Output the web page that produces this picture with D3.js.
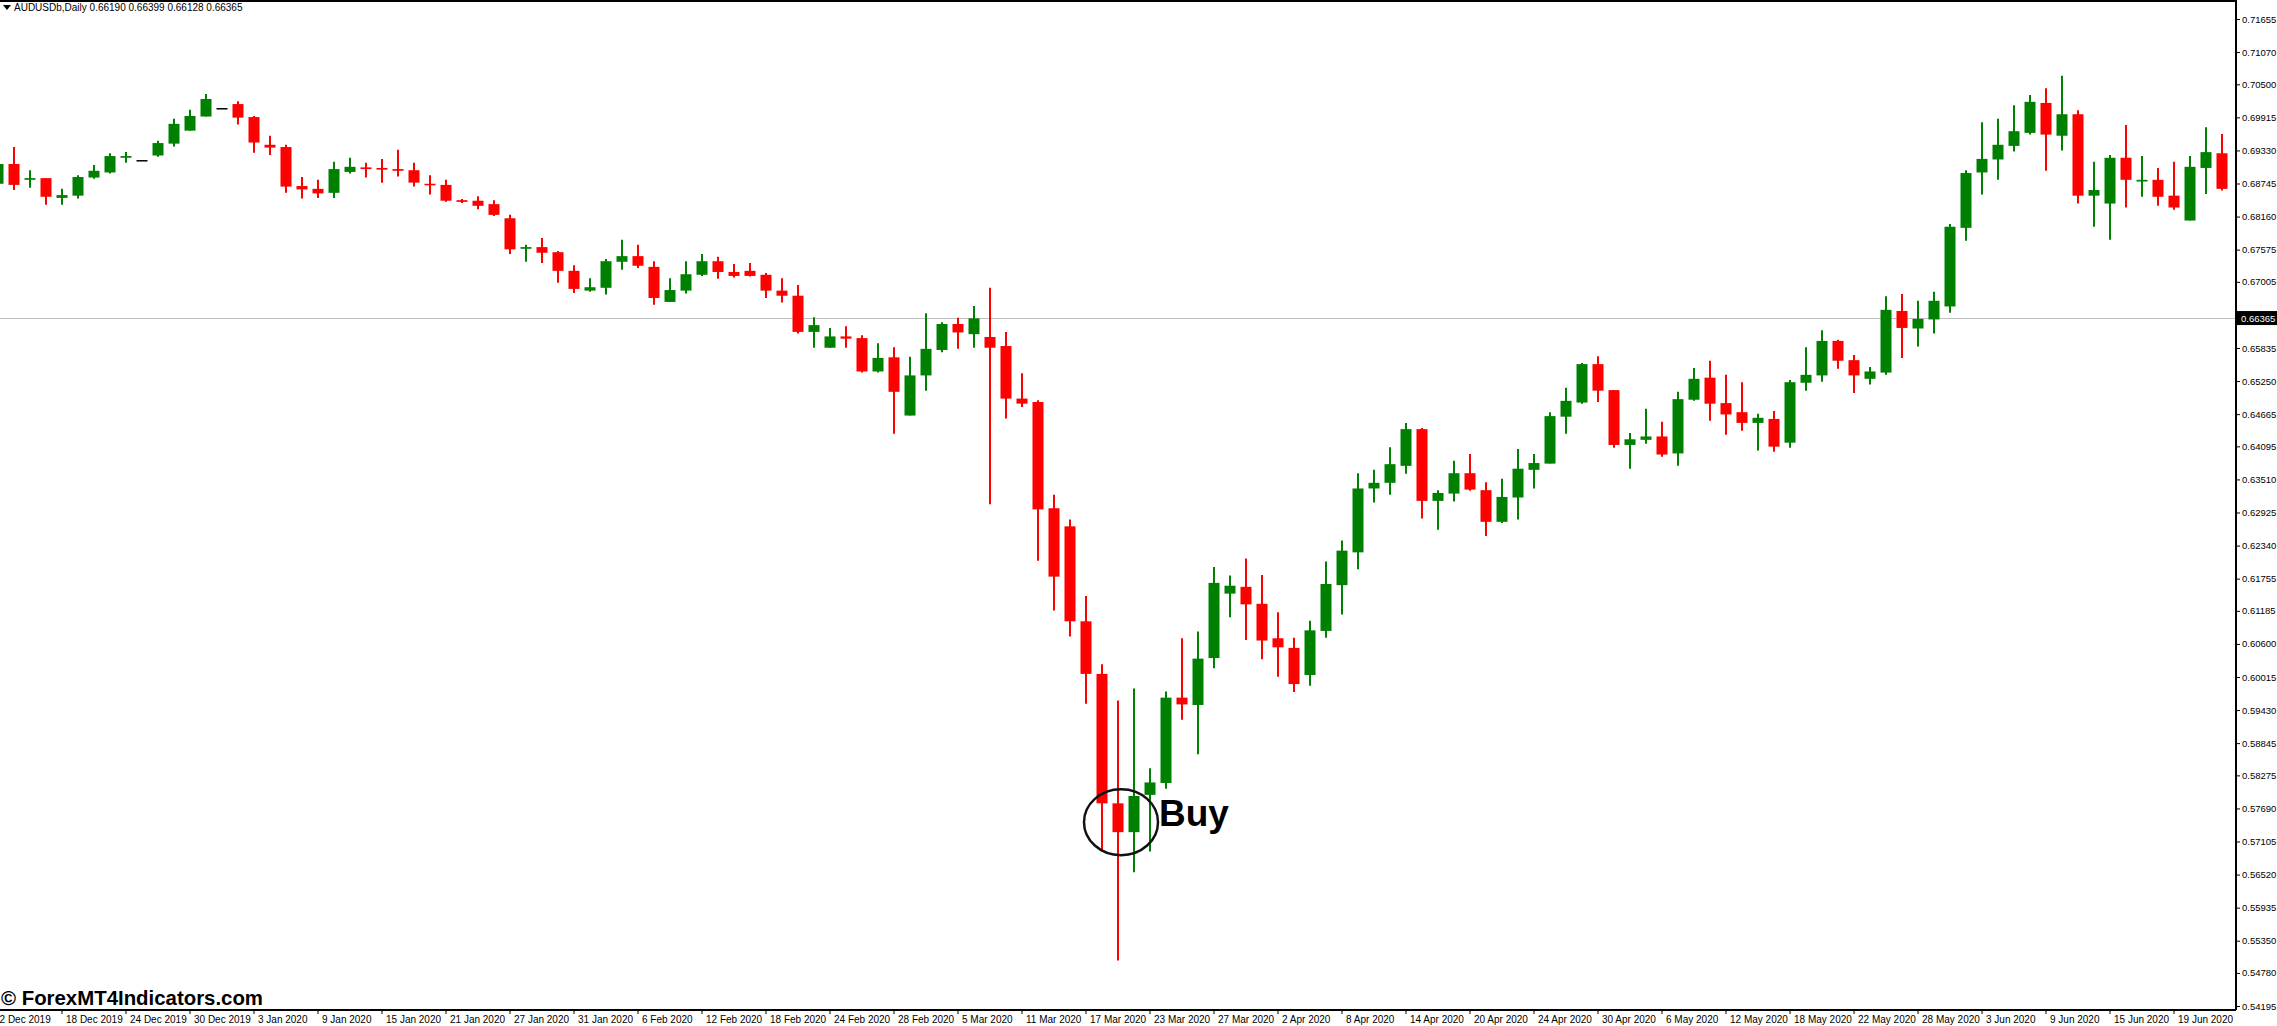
<!DOCTYPE html>
<html>
<head>
<script src="https://d3js.org/d3.v7.min.js"></script>
<style>
  body { margin: 0; background: #fff; }
  text { font-family: "Liberation Sans", Arial, sans-serif; }
</style>
</head>
<body>
<script>
// AUDUSDb daily candles, 12 Dec 2019 .. 24 Jun 2020
var open = [.6874,.6909,.6881,.6884,.6849,.6853,.6885,.6894,.6920,.6916,
  .6924,.6945,.6968,.6993,.7008,.7015,.6992,.6943,.6939,.6870,
  .6865,.6858,.6895,.6903,.6902,.6900,.6898,.6874,.6872,.6845,
  .6844,.6838,.6813,.6759,.6762,.6753,.6720,.6685,.6690,.6736,
  .6746,.6727,.6665,.6685,.6713,.6737,.6718,.6720,.6713,.6685,
  .6676,.6612,.6584,.6604,.6601,.6542,.6567,.6464,.6535,.6580,
  .6626,.6608,.6603,.6587,.6494,.6488,.6300,.6268,.6100,.6007,
  .5778,.5727,.5793,.5814,.5965,.5952,.6035,.6149,.6161,.6131,
  .6070,.6053,.6005,.6083,.6164,.6222,.6335,.6345,.6375,.6440,
  .6313,.6326,.6362,.6332,.6276,.6319,.6368,.6379,.6462,.6487,
  .6555,.6509,.6412,.6421,.6427,.6397,.6492,.6531,.6486,.6470,
  .6451,.6458,.6416,.6522,.6535,.6596,.6562,.6529,.6540,.6649,
  .6618,.6634,.6657,.6796,.6894,.6917,.6941,.6964,.7017,.6959,
  .6997,.6853,.6839,.6920,.6878,.6881,.6853,.6809,.6902,.6928];
var high = [.6913,.6939,.6898,.6884,.6865,.6889,.6907,.6928,.6930,.6916,
  .6950,.6989,.7005,.7033,.7008,.7020,.6994,.6959,.6943,.6886,
  .6881,.6913,.6920,.6911,.6918,.6934,.6911,.6889,.6881,.6847,
  .6852,.6845,.6819,.6766,.6778,.6755,.6730,.6707,.6741,.6775,
  .6766,.6737,.6707,.6737,.6750,.6745,.6732,.6734,.6716,.6707,
  .6695,.6638,.6619,.6622,.6606,.6592,.6585,.6568,.6645,.6629,
  .6637,.6658,.6690,.6612,.6539,.6491,.6324,.6280,.6145,.6024,
  .5960,.5981,.5840,.5976,.6070,.6082,.6196,.6181,.6211,.6182,
  .6116,.6071,.6101,.6206,.6243,.6362,.6368,.6408,.6451,.6442,
  .6332,.6384,.6396,.6346,.6352,.6405,.6396,.6470,.6513,.6557,
  .6569,.6509,.6433,.6476,.6453,.6506,.6548,.6561,.6536,.6523,
  .6467,.6472,.6527,.6585,.6615,.6598,.6571,.6550,.6675,.6679,
  .6667,.6683,.6803,.6898,.6983,.6989,.7013,.7031,.7043,.7065,
  .7004,.6913,.6925,.6978,.6923,.6902,.6913,.6923,.6974,.6962];
var low = [.6869,.6863,.6867,.6837,.6837,.6848,.6883,.6892,.6911,.6916,
  .6922,.6940,.6968,.6993,.7008,.6979,.6929,.6925,.6858,.6848,
  .6849,.6849,.6892,.6885,.6876,.6887,.6869,.6855,.6842,.6840,
  .6829,.6817,.6750,.6736,.6734,.6699,.6681,.6683,.6678,.6722,
  .6725,.6660,.6665,.6680,.6711,.6706,.6708,.6710,.6672,.6664,
  .6609,.6584,.6584,.6584,.6540,.6540,.6432,.6464,.6508,.6576,
  .6582,.6584,.6307,.6459,.6479,.6207,.6119,.6073,.5954,.5693,
  .5500,.5656,.5693,.5804,.5926,.5865,.6017,.6107,.6067,.6033,
  .6002,.5975,.5986,.6071,.6112,.6192,.6310,.6324,.6361,.6282,
  .6262,.6312,.6331,.6251,.6274,.6280,.6335,.6379,.6432,.6485,
  .6488,.6407,.6370,.6414,.6391,.6375,.6490,.6455,.6430,.6437,
  .6402,.6400,.6407,.6508,.6524,.6547,.6504,.6519,.6536,.6566,
  .6586,.6609,.6646,.6773,.6855,.6881,.6931,.6961,.6897,.6933,
  .6839,.6798,.6775,.6832,.6851,.6835,.6828,.6809,.6856,.6862];
var close = [.6909,.6872,.6884,.6851,.6854,.6886,.6897,.6923,.6923,.6916,
  .6946,.6980,.6994,.7024,.7008,.6991,.6947,.6938,.6869,.6864,
  .6857,.6900,.6904,.6900,.6899,.6897,.6876,.6872,.6844,.6842,
  .6835,.6819,.6758,.6762,.6752,.6720,.6688,.6691,.6737,.6746,
  .6729,.6672,.6686,.6714,.6737,.6718,.6711,.6711,.6685,.6676,
  .6612,.6624,.6604,.6600,.6542,.6566,.6506,.6535,.6582,.6626,
  .6611,.6636,.6584,.6494,.6485,.6298,.6179,.6100,.6007,.5778,
  .5727,.5791,.5815,.5965,.5953,.6034,.6168,.6163,.6130,.6066,
  .6054,.5989,.6084,.6166,.6225,.6335,.6345,.6378,.6440,.6313,
  .6327,.6362,.6333,.6276,.6320,.6370,.6380,.6463,.6490,.6555,
  .6508,.6412,.6422,.6427,.6395,.6493,.6529,.6485,.6466,.6451,
  .6460,.6409,.6523,.6536,.6596,.6561,.6535,.6542,.6651,.6619,
  .6635,.6667,.6798,.6893,.6918,.6943,.6967,.7019,.6961,.6997,
  .6853,.6863,.6920,.6881,.6881,.6851,.6832,.6904,.6930,.6865];

var dateTickIdx = [0,4,8,12,16,20,24,28,32,36,40,44,48,52,56,60,64,68,72,76,80,84,88,92,96,100,104,108,112,116,120,124,128,132,136];
var dateLabels = ["12 Dec 2019","18 Dec 2019","24 Dec 2019","30 Dec 2019","3 Jan 2020","9 Jan 2020","15 Jan 2020",
  "21 Jan 2020","27 Jan 2020","31 Jan 2020","6 Feb 2020","12 Feb 2020","18 Feb 2020","24 Feb 2020","28 Feb 2020",
  "5 Mar 2020","11 Mar 2020","17 Mar 2020","23 Mar 2020","27 Mar 2020","2 Apr 2020","8 Apr 2020","14 Apr 2020",
  "20 Apr 2020","24 Apr 2020","30 Apr 2020","6 May 2020","12 May 2020","18 May 2020","22 May 2020","28 May 2020",
  "3 Jun 2020","9 Jun 2020","15 Jun 2020","19 Jun 2020"];
var priceTicks = [0.71655,0.71070,0.70500,0.69915,0.69330,0.68745,0.68160,0.67575,0.67005,0.65835,0.65250,0.64665,
  0.64095,0.63510,0.62925,0.62340,0.61755,0.61185,0.60600,0.60015,0.59430,0.58845,0.58275,0.57690,0.57105,
  0.56520,0.55935,0.55350,0.54780,0.54195];
var lastPrice = 0.66365;
var buyIdx = 70;

var W = 2277, H = 1026, plotR = 2236, plotB = 1010;

var svg = d3.select("body").append("svg")
  .attr("width", W).attr("height", H);

var x = d3.scaleLinear().domain([0, 1]).range([-2, 14]);
var y = d3.scaleLinear().domain([0.54142, 0.71991]).range([1009, 0]);

var data = open.map(function(o, i) {
  return {i: i, o: o, h: high[i], l: low[i], c: close[i]};
});
function col(d) { return d.c > d.o ? "#008000" : (d.c < d.o ? "#ff0000" : "#000000"); }

// current price line
svg.append("line")
  .attr("x1", 0).attr("x2", plotR)
  .attr("y1", Math.round(y(lastPrice)) + 0.5).attr("y2", Math.round(y(lastPrice)) + 0.5)
  .attr("stroke", "#c0c0c0").attr("stroke-width", 1);

// wicks
svg.selectAll(".wick").data(data).enter().append("line")
  .attr("x1", function(d) { return x(d.i); })
  .attr("x2", function(d) { return x(d.i); })
  .attr("y1", function(d) { return y(d.h); })
  .attr("y2", function(d) { return y(d.l); })
  .attr("stroke", col).attr("stroke-width", 2);

// bodies
svg.selectAll(".body").data(data).enter().append("rect")
  .attr("x", function(d) { return x(d.i) - 5.5; })
  .attr("width", 11)
  .attr("y", function(d) { return y(Math.max(d.o, d.c)); })
  .attr("height", function(d) { return Math.max(1.5, Math.abs(y(d.o) - y(d.c))); })
  .attr("fill", col);

// frame
svg.append("line").attr("x1", 0).attr("x2", plotR).attr("y1", 1).attr("y2", 1).attr("stroke", "#000").attr("stroke-width", 2);
svg.append("line").attr("x1", plotR).attr("x2", plotR).attr("y1", 0).attr("y2", plotB).attr("stroke", "#000").attr("stroke-width", 2);
svg.append("line").attr("x1", 0).attr("x2", plotR).attr("y1", plotB).attr("y2", plotB).attr("stroke", "#000").attr("stroke-width", 2);

// price axis
var yAxis = svg.append("g").attr("transform", "translate(" + plotR + ",0)")
  .call(d3.axisRight(y).tickValues(priceTicks).tickFormat(d3.format(".5f")).tickSize(4).tickPadding(2));
yAxis.select(".domain").remove();
yAxis.selectAll("text").attr("font-size", "9.5px").attr("font-family", "'Liberation Sans', Arial, sans-serif").attr("fill", "#000");

// last price tag
var ly = y(lastPrice);
svg.append("rect").attr("x", plotR + 1).attr("y", ly - 7).attr("width", W - plotR - 1).attr("height", 14).attr("fill", "#000");
svg.append("text").attr("x", plotR + 5).attr("y", ly + 4).attr("font-size", "9.5px").attr("fill", "#fff").text(lastPrice.toFixed(5));

// date axis
var dg = svg.append("g").selectAll("g").data(dateTickIdx).enter().append("g")
  .attr("transform", function(d) { return "translate(" + x(d) + "," + plotB + ")"; });
dg.append("line").attr("y1", 0).attr("y2", 4).attr("stroke", "#000");
dg.append("text").attr("x", function(d, i) { return i === 0 ? -4 : 4; }).attr("y", 13)
  .attr("font-size", "10px").attr("fill", "#000")
  .text(function(d, i) { return dateLabels[i]; });

// header
svg.append("path").attr("d", "M3,5 L11,5 L7,10 Z").attr("fill", "#000");
svg.append("text").attr("x", 14).attr("y", 11).attr("font-size", "10px").attr("fill", "#000")
  .text("AUDUSDb,Daily  0.66190 0.66399 0.66128 0.66365");

// buy annotation
svg.append("ellipse").attr("cx", x(buyIdx) + 3).attr("cy", y(0.5727) - 10)
  .attr("rx", 37).attr("ry", 33).attr("fill", "none").attr("stroke", "#111").attr("stroke-width", 2.5);
svg.append("text").attr("x", x(buyIdx) + 41).attr("y", y(0.5727) - 6)
  .attr("font-weight", "bold")
  .attr("font-size", "37px").attr("fill", "#000").text("Buy");

// watermark
svg.append("text").attr("x", 1).attr("y", 1005)
  .attr("font-family", "'DejaVu Sans', sans-serif").attr("font-weight", "bold")
  .attr("font-size", "21px").attr("fill", "#000")
  .attr("textLength", 262).attr("lengthAdjust", "spacingAndGlyphs")
  .text("© ForexMT4Indicators.com");
</script>
</body>
</html>
